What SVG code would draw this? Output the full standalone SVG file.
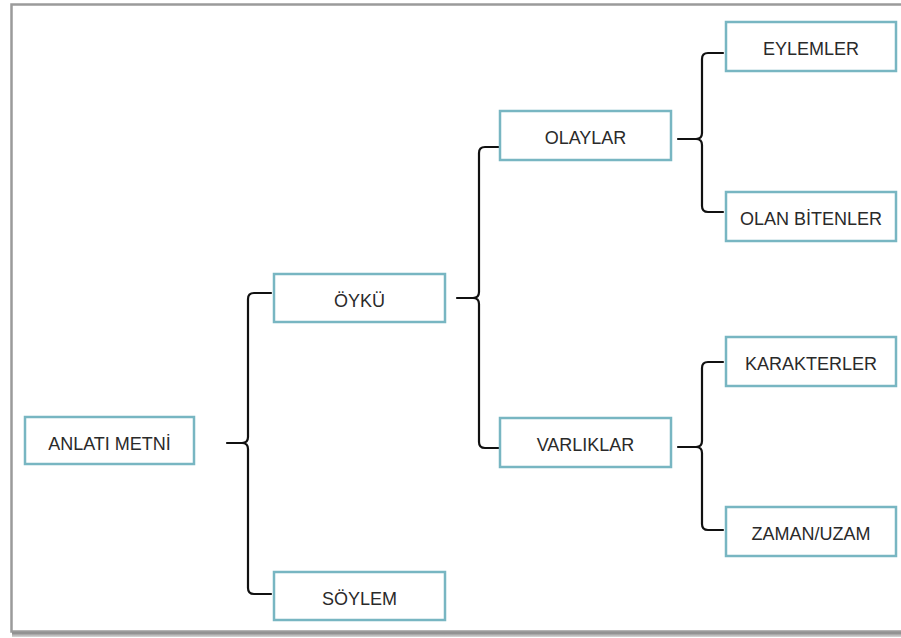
<svg xmlns="http://www.w3.org/2000/svg" width="901" height="638" viewBox="0 0 901 638">
  <style>
    .box { fill: #ffffff; stroke: #78b6c2; stroke-width: 2.5; }
    .lbl { font-family: "Liberation Sans", Arial, Helvetica, sans-serif; font-size: 18px; fill: #2a2a2a; text-anchor: middle; }
    .brace { fill: none; stroke: #111111; stroke-width: 2.2; stroke-linecap: round; stroke-linejoin: round; }
  </style>
  <defs>
    <linearGradient id="shadowFade" x1="0" y1="0" x2="0" y2="1">
      <stop offset="0" stop-color="#6e6e6e"/>
      <stop offset="1" stop-color="#9a9a9a" stop-opacity="0.4"/>
    </linearGradient>
  </defs>

  <rect x="0" y="0" width="901" height="638" fill="#ffffff"/>

  <!-- page frame with a soft drop shadow along the bottom -->
  <rect x="12" y="632" width="889" height="5" fill="url(#shadowFade)"/>
  <rect x="11.5" y="4.5" width="895" height="627" fill="#ffffff" stroke="#9b9b9b" stroke-width="2.5"/>

  <!-- connectors: curly braces joining each parent to its two children -->
  <g id="connectors">
    <path class="brace" d="M271,293 H254 Q248,293 248,299 V437 Q248,443 242,443 H227 M242,443 Q248,443 248,449 V588 Q248,594 254,594 H271"/>
    <path class="brace" d="M500,147 H485 Q479,147 479,153 V292 Q479,298 473,298 H457 M473,298 Q479,298 479,304 V442 Q479,448 485,448 H500"/>
    <path class="brace" d="M723,53 H708 Q702,53 702,59 V133 Q702,139 696,139 H678 M696,139 Q702,139 702,145 V206 Q702,212 708,212 H723"/>
    <path class="brace" d="M723,362 H708 Q702,362 702,368 V441 Q702,447 696,447 H678 M696,447 Q702,447 702,453 V524 Q702,530 708,530 H723"/>
  </g>

  <g id="anlati-metni">
    <rect class="box" x="25" y="417" width="169" height="47"/>
    <text class="lbl" x="109.5" y="450">ANLATI METNİ</text>
  </g>
  <g id="oyku">
    <rect class="box" x="274" y="274" width="171" height="48"/>
    <text class="lbl" x="359.5" y="307">ÖYKÜ</text>
  </g>
  <g id="soylem">
    <rect class="box" x="274" y="572" width="171" height="48"/>
    <text class="lbl" x="359.5" y="605">SÖYLEM</text>
  </g>
  <g id="olaylar">
    <rect class="box" x="500" y="111" width="171" height="49"/>
    <text class="lbl" x="585.5" y="144">OLAYLAR</text>
  </g>
  <g id="varliklar">
    <rect class="box" x="500" y="418" width="171" height="49"/>
    <text class="lbl" x="585.5" y="451">VARLIKLAR</text>
  </g>
  <g id="eylemler">
    <rect class="box" x="726" y="22" width="170" height="49"/>
    <text class="lbl" x="811" y="55">EYLEMLER</text>
  </g>
  <g id="olan-bitenler">
    <rect class="box" x="726" y="192" width="170" height="49"/>
    <text class="lbl" x="811" y="225">OLAN BİTENLER</text>
  </g>
  <g id="karakterler">
    <rect class="box" x="726" y="337" width="170" height="49"/>
    <text class="lbl" x="811" y="370">KARAKTERLER</text>
  </g>
  <g id="zaman-uzam">
    <rect class="box" x="726" y="507" width="170" height="49"/>
    <text class="lbl" x="811" y="540">ZAMAN/UZAM</text>
  </g>
</svg>
